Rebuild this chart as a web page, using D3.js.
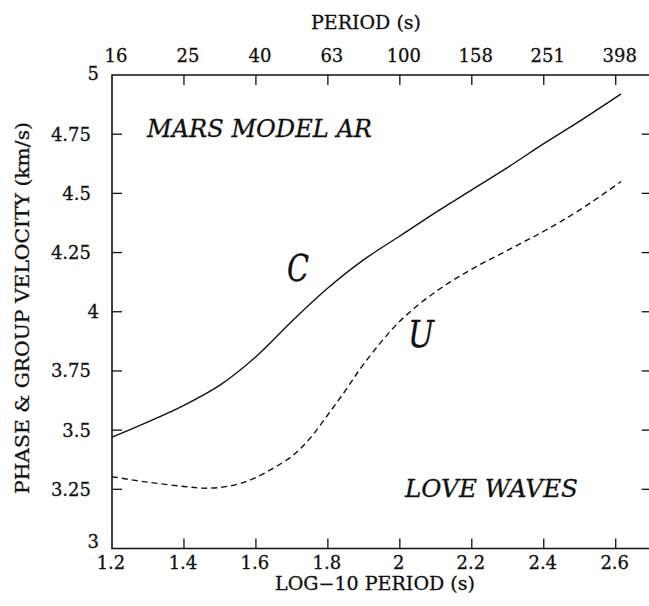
<!DOCTYPE html>
<html>
<head>
<meta charset="utf-8">
<script src="https://cdn.jsdelivr.net/npm/d3@7"></script>
<style>
  html, body { margin: 0; padding: 0; background: #fff; }
  svg { display: block; }
  text { font-family: "DejaVu Serif", serif; fill: #111; stroke: #111; stroke-width: 0.3px; }
</style>
</head>
<body>
<script>
// ---- data ----
const logPeriodC = [1.2, 1.3, 1.4, 1.5, 1.6, 1.7, 1.8, 1.9, 2.0, 2.1, 2.2, 2.3, 2.4, 2.5, 2.615];
const phaseC     = [3.47, 3.535, 3.605, 3.69, 3.81, 3.96, 4.10, 4.22, 4.32, 4.42, 4.515, 4.61, 4.71, 4.805, 4.92];
const logPeriodU = [1.2, 1.3, 1.4, 1.45, 1.5, 1.55, 1.6, 1.7, 1.75, 1.8, 1.85, 1.9, 2.0, 2.1, 2.2, 2.3, 2.4, 2.5, 2.615];
const groupU     = [3.303, 3.28, 3.262, 3.255, 3.258, 3.272, 3.30, 3.39, 3.465, 3.565, 3.67, 3.78, 3.96, 4.085, 4.18, 4.26, 4.34, 4.43, 4.55];
const bottomTicks = [1.2, 1.4, 1.6, 1.8, 2.0, 2.2, 2.4, 2.6];
const bottomTickLabels = ["1.2", "1.4", "1.6", "1.8", "2", "2.2", "2.4", "2.6"];
const topTickLabels = ["16", "25", "40", "63", "100", "158", "251", "398"];
const yTicks = [3, 3.25, 3.5, 3.75, 4, 4.25, 4.5, 4.75, 5];
const yTickLabels = ["3", "3.25", "3.5", "3.75", "4", "4.25", "4.5", "4.75", "5"];

const W = 649, H = 606;
const svg = d3.select("body").append("svg").attr("width", W).attr("height", H);
svg.append("rect").attr("width", W).attr("height", H).attr("fill", "#fff");

const x = d3.scaleLinear().domain([1.2, 2.7]).range([112, 651.7]);
const y = d3.scaleLinear().domain([3, 5]).range([548.5, 75]);
const x0 = x.range()[0], x1 = x.range()[1], y0 = y.range()[0], y1 = y.range()[1];
const TL = 10;
const stroke = "#111";

// frame (left, top, bottom)
svg.append("path")
  .attr("d", `M${x1},${y1} L${x0},${y1} L${x0},${y0} L${x1},${y0}`)
  .attr("fill", "none").attr("stroke", stroke).attr("stroke-width", 1.6);
svg.append("line").attr("x1", x1).attr("x2", x1).attr("y1", y1).attr("y2", y0)
  .attr("stroke", stroke).attr("stroke-width", 1.6);

// bottom & top ticks
const tg = svg.append("g");
bottomTicks.forEach((t, i) => {
  if (i === 0) return;
  tg.append("line").attr("x1", x(t)).attr("x2", x(t)).attr("y1", y0).attr("y2", y0 - TL)
    .attr("stroke", stroke).attr("stroke-width", 1.3);
  tg.append("line").attr("x1", x(t)).attr("x2", x(t)).attr("y1", y1).attr("y2", y1 + TL)
    .attr("stroke", stroke).attr("stroke-width", 1.3);
});
bottomTicks.forEach((t, i) => {
  svg.append("text").attr("x", x(t) - 1).attr("y", y0 + 20.5)
    .attr("text-anchor", "middle").attr("font-size", 18).text(bottomTickLabels[i]);
  svg.append("text").attr("x", x(t) + 4).attr("y", y1 - 13)
    .attr("text-anchor", "middle").attr("font-size", 18).text(topTickLabels[i]);
});

// left & right ticks
yTicks.forEach((t, i) => {
  if (i !== 0 && i !== yTicks.length - 1) {
    tg.append("line").attr("x1", x0).attr("x2", x0 + TL).attr("y1", y(t)).attr("y2", y(t))
      .attr("stroke", stroke).attr("stroke-width", 1.3);
    tg.append("line").attr("x1", x1).attr("x2", x1 - TL).attr("y1", y(t)).attr("y2", y(t))
      .attr("stroke", stroke).attr("stroke-width", 1.3);
  }
  const isInt = Number.isInteger(t);
  let dy = 6.5;
  if (i === 0) dy = -1;
  if (i === yTicks.length - 1) dy = 4.5;
  svg.append("text").attr("x", isInt ? 99 : 91).attr("y", y(t) + dy)
    .attr("text-anchor", "end").attr("font-size", 18).text(yTickLabels[i]);
});

// axis titles
svg.append("text").attr("x", 366).attr("y", 29).attr("text-anchor", "middle")
  .attr("font-size", 18).attr("textLength", 110).attr("lengthAdjust", "spacingAndGlyphs")
  .text("PERIOD (s)");
svg.append("text").attr("x", 375).attr("y", 590).attr("text-anchor", "middle")
  .attr("font-size", 18).attr("textLength", 200).attr("lengthAdjust", "spacingAndGlyphs")
  .text("LOG\u221210 PERIOD (s)");
svg.append("text").attr("transform", "translate(29,308) rotate(-90)")
  .attr("text-anchor", "middle").attr("font-size", 18)
  .attr("textLength", 372).attr("lengthAdjust", "spacingAndGlyphs")
  .text("PHASE & GROUP VELOCITY (km/s)");

// curves
const lineC = d3.line().x((d, i) => x(logPeriodC[i])).y(d => y(d)).curve(d3.curveCatmullRom.alpha(0.5));
const lineU = d3.line().x((d, i) => x(logPeriodU[i])).y(d => y(d)).curve(d3.curveCatmullRom.alpha(0.5));
svg.append("path").attr("d", lineC(phaseC)).attr("fill", "none")
  .attr("stroke", stroke).attr("stroke-width", 1.4);
svg.append("path").attr("d", lineU(groupU)).attr("fill", "none")
  .attr("stroke", stroke).attr("stroke-width", 1.4).attr("stroke-dasharray", "6,4");

// annotations
svg.append("text").attr("x", 147).attr("y", 137).attr("font-size", 24).attr("font-style", "italic")
  .attr("textLength", 225).attr("lengthAdjust", "spacingAndGlyphs").text("MARS MODEL AR");
svg.append("text").attr("x", 405).attr("y", 497).attr("font-size", 24).attr("font-style", "italic")
  .attr("textLength", 173).attr("lengthAdjust", "spacingAndGlyphs").text("LOVE WAVES");
svg.append("text").attr("x", 287).attr("y", 281).attr("font-size", 37).attr("font-style", "italic")
  .attr("textLength", 22).attr("lengthAdjust", "spacingAndGlyphs").text("C");
svg.append("text").attr("x", 408).attr("y", 347).attr("font-size", 37).attr("font-style", "italic")
  .attr("textLength", 26).attr("lengthAdjust", "spacingAndGlyphs").text("U");
</script>
</body>
</html>
